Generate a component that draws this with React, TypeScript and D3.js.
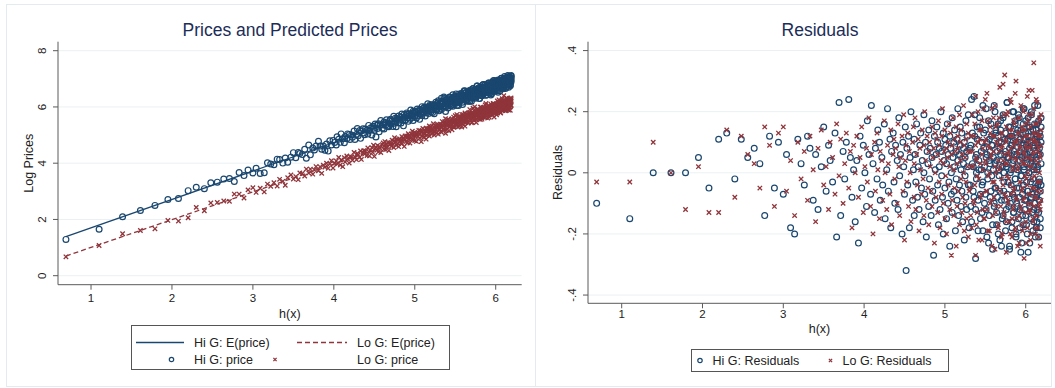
import React from "react";
import * as d3 from "d3";

// h(x) values shared by both groups
const hx = [
  .69,1.10,1.39,1.61,1.79,1.95,2.08,2.20,2.30,2.40,2.48,2.56,2.64,2.71,2.77,2.83,2.89,2.94,3.00,
  3.04,3.09,3.14,3.18,3.22,3.26,3.30,3.33,3.37,3.40,3.43,3.47,3.50,3.53,3.56,3.58,3.61,3.64,3.66,3.69,
  3.71,3.74,3.76,3.78,3.81,3.83,3.85,3.87,3.89,3.91,
  3.93,3.95,3.97,3.99,4.01,4.03,4.04,4.06,4.08,4.09,4.11,4.13,4.14,4.16,4.17,4.19,4.20,4.22,4.23,4.25,
  4.26,4.28,4.29,4.30,4.32,4.33,4.34,4.36,4.37,4.38,4.39,4.41,4.42,4.43,4.44,4.45,4.47,4.48,4.49,4.50,
  4.51,4.52,4.53,4.54,4.55,4.56,4.57,4.58,4.60,4.61,
  4.62,4.62,4.63,4.64,4.65,4.66,4.67,4.68,4.69,4.70,4.71,4.72,4.73,4.74,4.74,4.75,4.76,4.77,4.78,4.79,
  4.80,4.80,4.81,4.82,4.83,4.84,4.84,4.85,4.86,4.87,4.88,4.88,4.89,4.90,4.91,4.91,4.92,4.93,4.93,4.94,
  4.95,4.96,4.96,4.97,4.98,4.98,4.99,5.00,5.00,5.01,5.02,5.02,5.03,5.04,5.04,5.05,5.06,5.06,5.07,5.08,
  5.08,5.09,5.09,5.10,5.11,5.11,5.12,5.12,5.13,5.14,5.14,5.15,5.15,5.16,5.16,5.17,5.18,5.18,5.19,5.19,
  5.20,5.20,5.21,5.21,5.22,5.23,5.23,5.24,5.24,5.25,5.25,5.26,5.26,5.27,5.27,5.28,5.28,5.29,5.29,5.30,
  5.31,5.32,5.33,5.34,5.35,5.36,5.37,5.38,5.38,5.39,5.40,5.41,5.42,5.43,5.44,5.45,5.46,5.46,5.47,5.48,
  5.49,5.50,5.51,5.51,5.52,5.53,5.54,5.55,5.55,5.56,5.57,5.58,5.58,5.59,5.60,5.61,5.61,5.62,5.63,5.63,
  5.64,5.65,5.66,5.66,5.67,5.68,5.68,5.69,5.70,5.70,5.71,5.72,5.72,5.73,5.74,5.74,5.75,5.76,5.76,5.77,
  5.77,5.78,5.79,5.79,5.80,5.81,5.81,5.82,5.82,5.83,5.83,5.84,5.85,5.85,5.86,5.86,5.87,5.87,5.88,5.89,
  5.89,5.90,5.90,5.91,5.91,5.92,5.92,5.93,5.93,5.94,5.95,5.95,5.96,5.96,5.97,5.97,5.98,5.98,5.99,5.99,
  6.00,6.00,6.01,6.01,6.02,6.02,6.03,6.03,6.04,6.04,6.05,6.05,6.05,6.06,6.06,6.07,6.07,6.08,6.08,6.09,
  6.09,6.10,6.10,6.10,6.11,6.11,6.12,6.12,6.13,6.13,6.14,6.14,6.14,6.15,6.15,6.16,6.16,6.17,6.17,6.17,
  6.18,6.18,6.19,6.19,6.19,
  5.31,5.32,5.33,5.34,5.35,5.36,5.37,5.38,5.39,5.39,5.40,5.41,5.42,5.43,5.44,5.45,5.46,5.47,5.47,5.48,
  5.49,5.50,5.51,5.52,5.52,5.53,5.54,5.55,5.56,5.56,5.57,5.58,5.59,5.59,5.60,5.61,5.62,5.62,5.63,5.64,
  5.64,5.65,5.66,5.67,5.67,5.68,5.69,5.69,5.70,5.71,5.71,5.72,5.73,5.73,5.74,5.75,5.75,5.76,5.76,5.77,
  5.78,5.78,5.79,5.80,5.80,5.81,5.81,5.82,5.83,5.83,5.84,5.84,5.85,5.85,5.86,5.87,5.87,5.88,5.88,5.89,
  5.89,5.90,5.90,5.91,5.92,5.92,5.93,5.93,5.94,5.94,5.95,5.95,5.96,5.96,5.97,5.97,5.98,5.98,5.99,5.99,
  6.00,6.00,6.01,6.01,6.02,6.02,6.03,6.03,6.04,6.04,6.05,6.05,6.06,6.06,6.06,6.07,6.07,6.08,6.08,6.09,
  6.09,6.10,6.10,6.11,6.11,6.11,6.12,6.12,6.13,6.13,6.14,6.14,6.14,6.15,6.15,6.16,6.16,6.16,6.17,6.17,
  6.18,6.18,6.18,6.19,6.19,
];

const resHi = [
  -.10,-.15,.00,.00,.00,.05,-.05,.11,.13,-.02, .11,.05,.08,.03,-.14,.12,-.05,.10,-.07,.06,
  -.18,-.20,.11,.03,-.04,.12,.08,-.09,.06,-.12, .02,.15,-.06,.09,.04,-.03,.13,-.21,.23,-.14,
  .07,-.02,.10,.24,.05,-.08,.01,-.16,.04,-.23, .12,-.05,.09,.00,-.11,.17,.06,-.07,.22,.03,
  -.13,.08,-.02,.14,.10,-.09,.05,-.04,.16,-.15, .01,.21,-.06,.11,-.18,.07,.13,-.03,-.10,.09,
  .04,-.12,.18,-.01,.06,-.20,.10,.02,-.07,.15, -.32,.08,-.04,.12,-.18,.05,.20,-.09,.01,-.14,
  .11,.06,-.03,.16,-.08,.02,-.12,.09,.13,-.05, .04,-.16,.19,.00,-.07,.10,-.21,.07,.03,-.11,
  .14,-.02,.08,-.14,.05,.17,-.06,-.27,.12,.01, -.09,.06,.15,-.04,.10,-.17,.02,.08,-.12,.20,
  -.01,.07,-.08,.13,-.20,.04,.11,-.05,.09,-.15, .03,.16,-.10,.06,-.03,.12,-.24,.08,.00,-.07,
  .18,-.13,.05,.10,-.06,.02,.14,-.19,.07,-.02, .11,-.09,.04,.21,-.14,.06,-.04,.09,.15,-.11,
  .01,-.06,.13,-.16,.08,.03,-.22,.10,-.01,.05, .17,-.08,.07,-.12,.02,.12,-.04,.19,-.18,
  .08,-.11,.24,.03,-.06,.25,.12,-.28,.05,-.02, .15,-.09,.01,.18,-.15,.07,.10,-.04,-.19,.13,
  .02,-.07,.21,-.12,.06,.00,-.23,.11,.04,-.08, .16,-.01,.09,-.17,.05,.22,-.10,.03,-.05,.14,
  -.13,.07,.12,-.20,.01,.08,-.06,.17,-.24,.10, .04,-.14,.19,-.03,.06,-.09,.13,-.16,.02,.23,
  -.07,.11,-.11,.05,-.25,.15,.00,-.04,.09,-.18, .12,.03,-.13,.20,-.08,.07,-.02,.16,-.21,.06,
  -.10,.14,.01,-.15,.10,-.05,.18,-.12,.04,-.26, .08,-.01,.13,-.07,.21,-.17,.02,.11,-.09,.05,
  -.14,.17,-.03,.09,-.20,.06,.12,-.06,.00,.15, -.11,.07,-.23,.10,.03,-.08,.19,-.13,.05,-.02,
  .14,-.16,.08,.01,-.10,.22,-.05,.11,-.18,.04, .12,-.07,.16,-.12,.02,-.21,.09,-.03,.13,-.09,
  .06,-.15,.18,-.04,.10,
  -.04,.09,-.16,.13,.02,-.08,.19,-.12,.06,.00, .11,-.19,.04,.15,-.07,.01,-.13,.22,-.03,.08,
  -.10,.14,.05,-.21,.10,-.02,.17,-.14,.03,.07, -.06,.12,-.25,.09,.01,-.11,.20,-.05,.13,-.17,
  .04,-.08,.16,-.01,.10,-.22,.06,.14,-.09,.02, -.15,.18,.00,-.06,.11,-.19,.07,.03,-.12,.23,
  .05,-.03,.15,-.24,.08,-.10,.12,.01,-.16,.09, -.07,.20,-.13,.04,.06,-.02,.17,-.20,.10,-.05,
  .13,-.11,.02,.19,-.08,.07,-.18,.11,-.01,.14, -.23,.05,.09,-.14,.16,-.04,.01,.21,-.12,.06,
  -.09,.13,-.17,.03,.10,-.06,.18,-.26,.08,.00, .15,-.10,.05,-.03,.12,-.15,.20,-.07,.04,-.19,
  .09,.02,-.12,.16,-.05,.11,-.21,.07,.14,-.08, .01,-.16,.10,.22,-.04,.06,-.13,.17,-.02,.08,
  -.18,.12,-.06,.03,.15,
];

const resLo = [
  -.03,-.03,.10,.00,-.12,.02,-.13,-.13,.14,-.08, .12,.06,.03,-.05,.15,.09,-.11,.13,.15,-.06,
  .04,-.14,.10,-.02,.07,-.09,.12,.01,-.16,.08, .14,-.04,.02,-.12,.10,.05,-.07,.16,-.01,.11,
  -.10,.03,.13,-.05,.07,-.18,.09,.00,.12,-.08, .05,.15,-.13,.02,.08,-.03,.18,-.11,.06,-.20,
  .10,-.06,.13,.01,-.15,.07,.04,-.09,.17,.00, -.12,.09,.03,-.07,.14,-.17,.06,.11,-.02,.08,
  -.10,.16,.02,-.14,.05,.12,-.06,.19,-.22,.04, .09,-.03,.13,-.11,.07,.00,-.16,.10,.15,-.08,
  .03,.18,-.12,.06,-.04,.11,-.19,.08,.01,-.07, .14,-.02,.09,-.14,.20,.04,-.09,.12,-.05,.07,
  -.17,.10,.02,-.06,.15,-.11,.05,.08,-.23,.13, .00,-.08,.11,.06,-.13,.17,-.03,.09,-.18,.04,
  .12,-.07,.21,-.10,.03,.07,-.15,.14,-.01,.08, -.20,.05,.10,-.04,.16,-.12,.02,.13,-.27,.06,
  .09,-.09,.18,.01,-.14,.11,-.05,.07,-.24,.15, .03,-.11,.08,.12,-.06,.19,-.17,.04,.10,-.02,
  .14,-.13,.06,-.08,.22,.00,-.19,.09,.05,-.10, .11,-.03,.16,-.15,.07,.02,-.21,.13,-.06,
  -.05,.12,-.18,.07,.02,-.10,.16,-.27,.09,.04, -.13,.20,-.02,.11,-.08,.14,-.22,.06,.01,-.15,
  .10,.24,-.06,.03,-.12,.17,-.01,.08,-.19,.13, .05,-.09,.21,-.14,.07,-.03,.12,-.25,.15,.00,
  -.11,.09,.04,-.17,.18,-.06,.11,.02,-.21,.08, .13,-.04,.29,-.13,.06,.32,-.08,.10,-.16,.03,
  .19,-.10,.07,-.02,.14,-.20,.05,.23,-.07,.12, -.15,.01,.09,-.11,.16,-.05,.26,-.18,.04,.10,
  -.09,.13,-.24,.06,.02,-.14,.18,-.03,.08,-.12, .15,-.06,.11,-.19,.03,.21,-.08,.07,-.01,.14,
  -.16,.09,.05,-.23,.12,-.04,.17,-.10,.02,.27, -.13,.08,-.07,.15,-.20,.04,.11,-.02,.19,-.15,
  .06,.36,-.11,.10,-.05,.13,-.18,.01,.24,-.08, .09,-.14,.16,-.03,.07,-.21,.12,.00,.18,-.10,
  .05,-.12,.14,-.06,.09,
  .07,-.14,.02,.19,-.09,.12,-.04,.25,-.17,.05, -.01,.10,-.22,.14,.03,-.07,.17,-.12,.08,.21,
  -.15,.04,.11,-.06,.26,-.19,.09,.00,-.10,.15, .06,-.24,.12,-.03,.18,-.08,.02,.22,-.13,.10,
  -.05,.16,-.18,.07,.01,.28,-.11,.13,-.02,-.20, .09,.04,-.14,.19,-.07,.11,.03,-.26,.15,-.01,
  .20,-.09,.06,-.16,.12,.24,-.04,.08,-.21,.14, .02,-.12,.17,-.06,.10,-.19,.05,.30,-.08,.11,
  -.15,.07,.01,.18,-.23,.13,-.03,.09,.22,-.11, .04,-.17,.14,-.05,.20,-.09,.06,-.28,.12,.03,
  .16,-.13,.08,-.02,.25,-.18,.10,.00,-.07,.19, -.12,.05,.15,-.22,.09,.02,-.10,.27,-.05,.13,
  -.16,.07,.21,-.08,.11,-.01,-.20,.16,.04,-.14, .10,.23,-.06,.13,-.18,.03,.08,-.11,.17,-.03,
  .12,-.24,.06,.19,-.09,
];

// fitted lines E(price): endpoints
const fitX = [0.69, 6.19];
const fitHi = [1.39, 6.94];
const fitLo = [0.70, 6.13];

const xTicks = [1, 2, 3, 4, 5, 6];
const priceTicks = [0, 2, 4, 6, 8];
const resTicks = [-0.4, -0.2, 0, 0.2, 0.4];
const resTickLabels = ["-.4", "-.2", "0", ".2", ".4"];

const NAVY = "#1a476f";
const MAROON = "#90353b";
const GRID = "#eaf1f3";
const AXIS = "#5a5a5a";
const TITLE = "#1c2d57";
const FONT = "'Liberation Sans', Arial, Helvetica, sans-serif";

const n = Math.min(hx.length, resHi.length, resLo.length);
const idx = d3.range(n);

const fitHiF = d3.scaleLinear().domain(fitX).range(fitHi);
const fitLoF = d3.scaleLinear().domain(fitX).range(fitLo);

function Cross({ x, y, s = 2.2, color }: any) {
  return (
    <path
      d={`M${x - s},${y - s}L${x + s},${y + s}M${x - s},${y + s}L${x + s},${y - s}`}
      stroke={color}
      strokeWidth={1.3}
      fill="none"
    />
  );
}

function Axes({ xs, ys, yTicks, yLabels, yTitle, yTitleX, tickLabelX, xLabelY, xTitleY }: any) {
  const [x0, x1] = xs.range();
  const [yb, yt] = ys.range();
  return (
    <g>
      {yTicks.map((t: number, i: number) => (
        <line key={"g" + i} x1={x0} x2={x1} y1={ys(t)} y2={ys(t)} stroke={GRID} strokeWidth={1} />
      ))}
      <line x1={x0} x2={x0} y1={yt} y2={yb} stroke={AXIS} strokeWidth={1} />
      <line x1={x0} x2={x1} y1={yb} y2={yb} stroke={AXIS} strokeWidth={1} />
      {yTicks.map((t: number, i: number) => (
        <g key={"yt" + i}>
          <line x1={x0 - 5} x2={x0} y1={ys(t)} y2={ys(t)} stroke={AXIS} />
          <text
            x={tickLabelX}
            y={ys(t)}
            transform={`rotate(-90, ${tickLabelX}, ${ys(t)})`}
            textAnchor="middle"
            dominantBaseline="central"
            fontSize={11.5}
            fill="#222"
          >
            {yLabels[i]}
          </text>
        </g>
      ))}
      {xTicks.map((t, i) => (
        <g key={"xt" + i}>
          <line x1={xs(t)} x2={xs(t)} y1={yb} y2={yb + 5} stroke={AXIS} />
          <text x={xs(t)} y={xLabelY} textAnchor="middle" dominantBaseline="central" fontSize={11.5} fill="#222">
            {t}
          </text>
        </g>
      ))}
      <text
        x={yTitleX}
        y={(yt + yb) / 2}
        transform={`rotate(-90, ${yTitleX}, ${(yt + yb) / 2})`}
        textAnchor="middle"
        dominantBaseline="central"
        fontSize={12.5}
        fill="#222"
      >
        {yTitle}
      </text>
      <text x={(x0 + x1) / 2} y={xTitleY} textAnchor="middle" dominantBaseline="central" fontSize={12.5} fill="#222">
        h(x)
      </text>
    </g>
  );
}

export default function App() {
  // Left panel scales
  const xL = d3.scaleLinear().domain([0.592, 6.321]).range([58, 521.7]);
  const yL = d3.scaleLinear().domain([-0.32, 8.32]).range([284.7, 41.7]);
  // Right panel scales
  const xR = d3.scaleLinear().domain([0.583, 6.313]).range([588, 1051]);
  const yR = d3.scaleLinear().domain([-0.427, 0.429]).range([303.3, 41.7]);

  const lineL = d3
    .line<number>()
    .x((d) => xL(d))
    .y((d) => yL(fitHiF(d)));
  const lineLo = d3
    .line<number>()
    .x((d) => xL(d))
    .y((d) => yL(fitLoF(d)));

  return (
    <svg
      width={1055}
      height={388}
      style={{ position: "absolute", left: 0, top: 0, background: "#fff", fontFamily: FONT }}
    >
      <rect x={0} y={0} width={1055} height={388} fill="#fff" />
      <rect x={6.5} y={4.5} width={529} height={382} fill="none" stroke="#e3ebee" />
      <rect x={535.5} y={4.5} width={516} height={382} fill="none" stroke="#e3ebee" />

      {/* Left panel */}
      <text x={290} y={30} textAnchor="middle" dominantBaseline="central" fontSize={17.5} fill={TITLE}>
        Prices and Predicted Prices
      </text>
      <Axes
        xs={xL}
        ys={yL}
        yTicks={priceTicks}
        yLabels={priceTicks.map(String)}
        yTitle="Log Prices"
        yTitleX={29}
        tickLabelX={42}
        xLabelY={298}
        xTitleY={313.5}
      />
      <path d={lineL(fitX) || ""} stroke={NAVY} strokeWidth={1.3} fill="none" />
      <path d={lineLo(fitX) || ""} stroke={MAROON} strokeWidth={1.3} strokeDasharray="5,3" fill="none" />
      <g>
        {idx.map((i) => (
          <circle
            key={"ph" + i}
            cx={xL(hx[i])}
            cy={yL(fitHiF(hx[i]) + resHi[i])}
            r={2.9}
            fill="none"
            stroke={NAVY}
            strokeWidth={1.2}
          />
        ))}
      </g>
      <g>
        {idx.map((i) => (
          <Cross key={"pl" + i} x={xL(hx[i])} y={yL(fitLoF(hx[i]) + resLo[i])} color={MAROON} />
        ))}
      </g>

      {/* Left legend */}
      <rect x={131.5} y={325.5} width={318} height={44} fill="#fff" stroke="#555" strokeWidth={1} />
      <line x1={136} x2={184} y1={342.5} y2={342.5} stroke={NAVY} strokeWidth={1.3} />
      <text x={194} y={342.5} dominantBaseline="central" fontSize={12.5} fill="#222">Hi G: E(price)</text>
      <line x1={297} x2={347} y1={342.5} y2={342.5} stroke={MAROON} strokeWidth={1.3} strokeDasharray="5,3" />
      <text x={357} y={342.5} dominantBaseline="central" fontSize={12.5} fill="#222">Lo G: E(price)</text>
      <circle cx={171.5} cy={359.5} r={2.2} fill="none" stroke={NAVY} strokeWidth={1.2} />
      <text x={194} y={359.5} dominantBaseline="central" fontSize={12.5} fill="#222">Hi G: price</text>
      <Cross x={275} y={359.5} s={1.6} color={MAROON} />
      <text x={357} y={359.5} dominantBaseline="central" fontSize={12.5} fill="#222">Lo G: price</text>

      {/* Right panel */}
      <text x={820} y={30} textAnchor="middle" dominantBaseline="central" fontSize={17.5} fill={TITLE}>
        Residuals
      </text>
      <Axes
        xs={xR}
        ys={yR}
        yTicks={resTicks}
        yLabels={resTickLabels}
        yTitle="Residuals"
        yTitleX={558}
        tickLabelX={572}
        xLabelY={313.5}
        xTitleY={329}
      />
      <g>
        {idx.map((i) => (
          <circle
            key={"rh" + i}
            cx={xR(hx[i])}
            cy={yR(resHi[i])}
            r={2.9}
            fill="none"
            stroke={NAVY}
            strokeWidth={1.2}
          />
        ))}
      </g>
      <g>
        {idx.map((i) => (
          <Cross key={"rl" + i} x={xR(hx[i])} y={yR(resLo[i])} color={MAROON} />
        ))}
      </g>

      {/* Right legend */}
      <rect x={691.5} y={349.5} width={257} height={22} fill="#fff" stroke="#555" strokeWidth={1} />
      <circle cx={700} cy={360.5} r={2.2} fill="none" stroke={NAVY} strokeWidth={1.2} />
      <text x={712.5} y={360.5} dominantBaseline="central" fontSize={12.5} fill="#222">Hi G: Residuals</text>
      <Cross x={830.5} y={360.5} s={1.6} color={MAROON} />
      <text x={842.5} y={360.5} dominantBaseline="central" fontSize={12.5} fill="#222">Lo G: Residuals</text>
    </svg>
  );
}
